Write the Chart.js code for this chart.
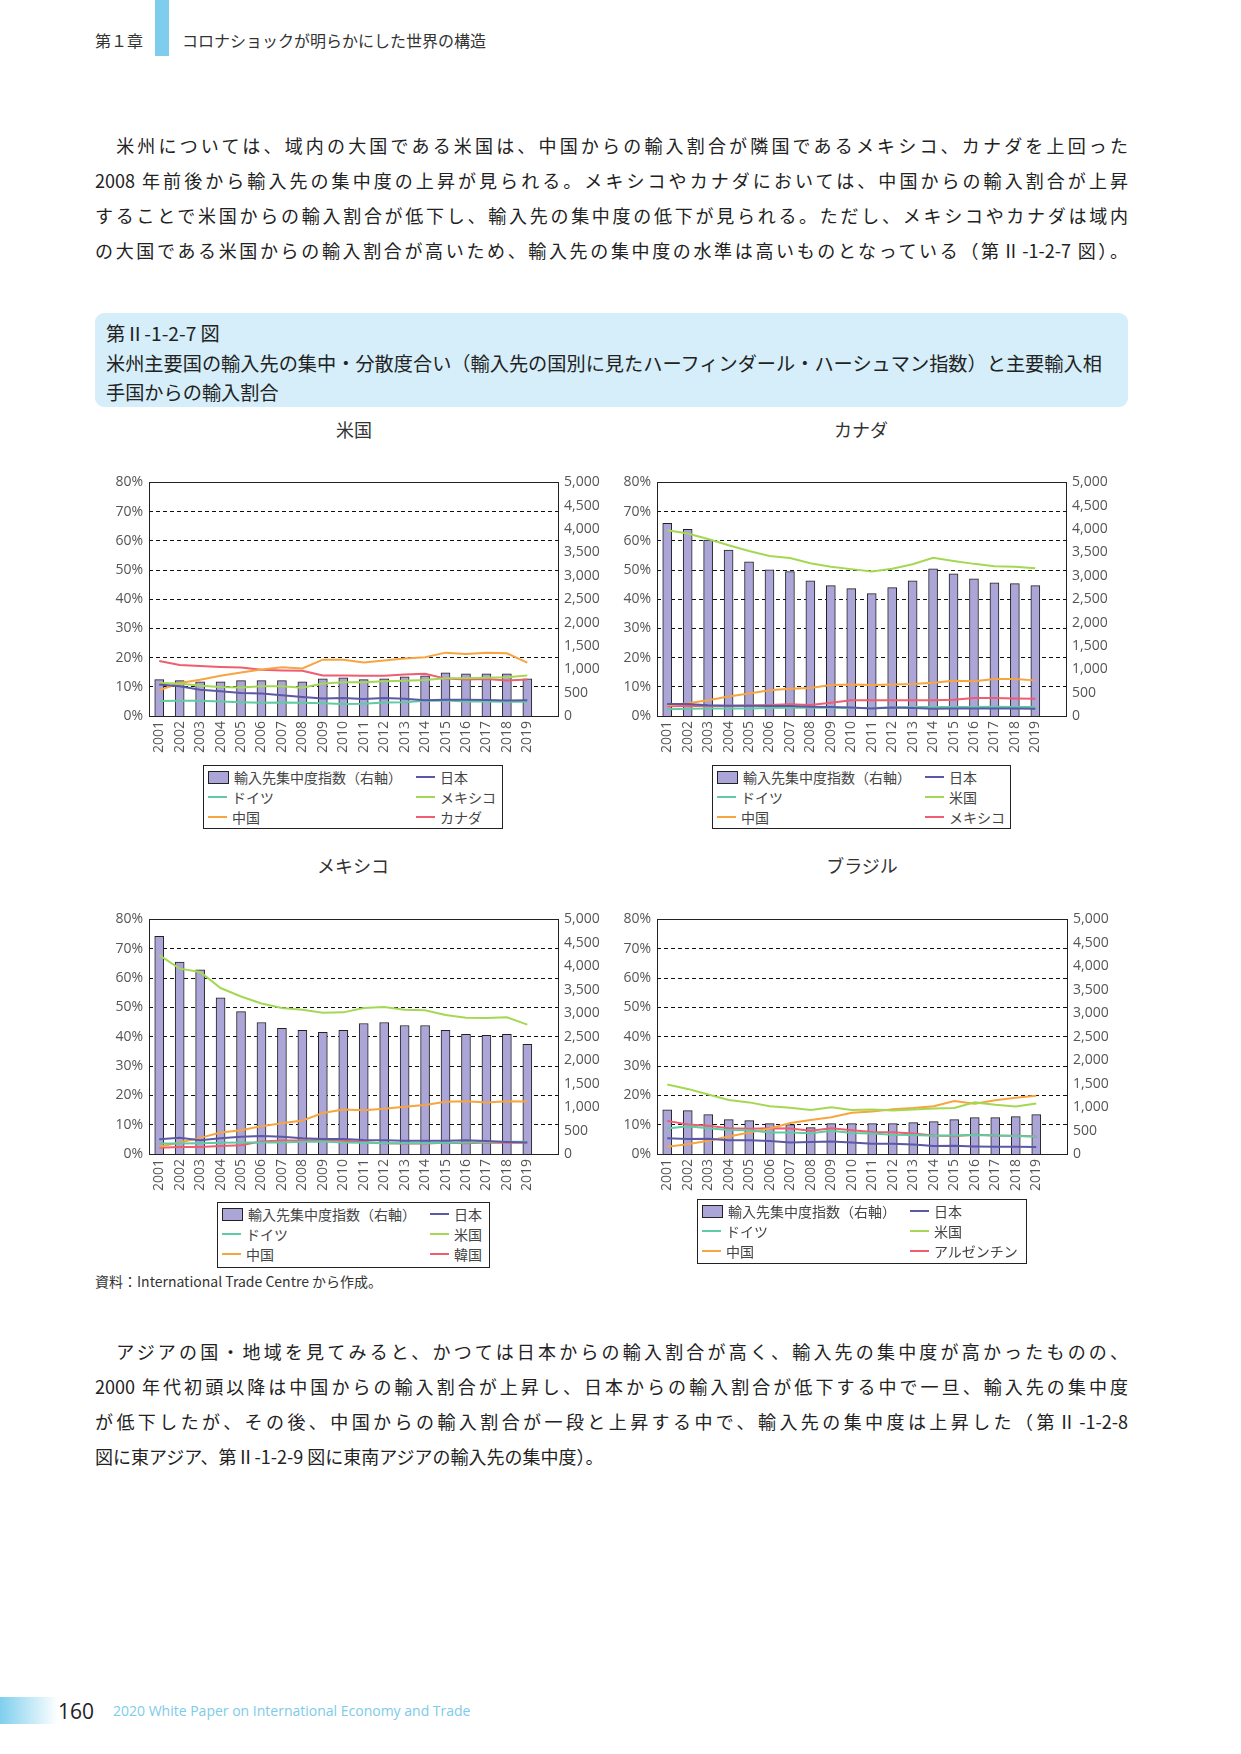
<!DOCTYPE html>
<html lang="ja">
<head>
<meta charset="utf-8">
<script src="https://cdn.jsdelivr.net/npm/chart.js@4.4.1/dist/chart.umd.min.js"></script>
<style>
  body { margin: 0; background: #fff; }
  #page { position: relative; width: 1241px; height: 1754px; overflow: hidden;
          font-family: "Noto Sans CJK JP", "Noto Sans", sans-serif; color: #222; }
  .abs { position: absolute; }
  .para div { height: 35px; line-height: 35px; font-size: 18px; text-align: justify; text-align-last: justify; }
  .para div.last { text-align-last: left; }
  .caption { left: 95px; top: 313px; width: 1033px; height: 94px; background: #d5eef9; border-radius: 9px; }
  .caption div { position: absolute; left: 11px; font-size: 19.2px; line-height: 30px; white-space: nowrap; color: #222; }
  .ctitle { font-size: 18px; color: #333; transform: translateX(-50%); white-space: nowrap; line-height: 20px; }
  .legend { border: 1.5px solid #222; box-sizing: border-box; font-size: 14px; color: #444; }
  .legend .item { position: absolute; display: flex; align-items: center; white-space: nowrap; height: 18px; }
  .legend .sw-bar { width: 19px; height: 11px; border: 1.5px solid #222; margin-right: 5px; }
  .legend .sw-line { width: 19px; height: 2px; margin-right: 5px; }
</style>
</head>
<body>
<div id="page">
  <!-- header -->
  <div class="abs" style="left:155px;top:0;width:14px;height:56px;background:#7fcdec;"></div>
  <div class="abs" style="left:95px;top:30px;font-size:16px;line-height:20px;color:#333;">第１章</div>
  <div class="abs" style="left:182px;top:30px;font-size:16px;line-height:20px;color:#333;">コロナショックが明らかにした世界の構造</div>

  <!-- upper paragraph -->
  <div class="abs para" style="left:95px;top:128px;width:1033px;">
    <div>　米州については、域内の大国である米国は、中国からの輸入割合が隣国であるメキシコ、カナダを上回った</div>
    <div>2008 年前後から輸入先の集中度の上昇が見られる。メキシコやカナダにおいては、中国からの輸入割合が上昇</div>
    <div>することで米国からの輸入割合が低下し、輸入先の集中度の低下が見られる。ただし、メキシコやカナダは域内</div>
    <div>の大国である米国からの輸入割合が高いため、輸入先の集中度の水準は高いものとなっている（第Ⅱ-1-2-7 図）。</div>
  </div>

  <!-- figure caption -->
  <div class="abs caption">
    <div style="top:5px;">第Ⅱ-1-2-7 図</div>
    <div style="top:35px;">米州主要国の輸入先の集中・分散度合い（輸入先の国別に見たハーフィンダール・ハーシュマン指数）と主要輸入相</div>
    <div style="top:64px;">手国からの輸入割合</div>
  </div>

  <div id="charts"></div>

  <div class="abs" style="left:95px;top:1272px;font-size:14px;line-height:18px;color:#333;">資料：International Trade Centre から作成。</div>

  <!-- lower paragraph -->
  <div class="abs para" style="left:95px;top:1334px;width:1033px;">
    <div>　アジアの国・地域を見てみると、かつては日本からの輸入割合が高く、輸入先の集中度が高かったものの、</div>
    <div>2000 年代初頭以降は中国からの輸入割合が上昇し、日本からの輸入割合が低下する中で一旦、輸入先の集中度</div>
    <div>が低下したが、その後、中国からの輸入割合が一段と上昇する中で、輸入先の集中度は上昇した（第Ⅱ-1-2-8</div>
    <div class="last">図に東アジア、第Ⅱ-1-2-9 図に東南アジアの輸入先の集中度）。</div>
  </div>

  <!-- footer -->
  <div class="abs" style="left:0;top:1697px;width:58px;height:27px;background:linear-gradient(to right,#7fcfee,#ffffff);"></div>
  <div class="abs" style="left:58px;top:1699px;font-size:21px;line-height:24px;color:#222;font-family:'Open Sans',sans-serif;">160</div>
  <div class="abs" style="left:113px;top:1702px;font-size:14px;line-height:18px;color:#7ccbe9;font-family:'Open Sans',sans-serif;">2020 White Paper on International Economy and Trade</div>
</div>

<script>
// Years on the category axis (one empty slot at the end, as in the original)
const years = ['2001','2002','2003','2004','2005','2006','2007','2008','2009','2010',
               '2011','2012','2013','2014','2015','2016','2017','2018','2019'];

// Series labels
const barLabel = '輸入先集中度指数（右軸）';

// 米国
const usBars    = [777, 756, 734, 734, 756, 756, 756, 734, 798, 819, 777, 798, 840, 862, 925, 904, 904, 904, 798];
const usJapan   = [10.8, 10.2, 9.0, 8.5, 7.9, 7.7, 7.1, 6.5, 6.0, 6.2, 5.8, 6.2, 5.9, 5.4, 5.6, 5.6, 5.5, 5.3, 5.4];
const usGermany = [5.1, 5.2, 5.2, 5.0, 4.7, 4.5, 4.6, 4.5, 4.4, 4.1, 4.2, 4.6, 4.7, 5.2, 5.3, 5.0, 5.0, 4.9, 4.9];
const usMexico  = [11.3, 11.1, 10.4, 9.9, 9.8, 10.2, 10.2, 9.7, 11.1, 11.6, 11.6, 11.9, 12.1, 12.3, 12.9, 12.9, 13.1, 13.3, 13.9];
const usChina   = [8.8, 11.3, 12.4, 13.8, 14.9, 15.9, 16.7, 16.3, 19.3, 19.3, 18.3, 19.0, 19.7, 20.1, 21.7, 21.2, 21.7, 21.5, 18.3];
const usCanada  = [18.8, 17.5, 17.1, 16.8, 16.6, 15.8, 15.6, 15.5, 13.9, 13.9, 13.8, 13.8, 14.2, 14.5, 12.8, 12.5, 12.7, 12.2, 12.5];

// カナダ
const caBars    = [4124, 3997, 3764, 3552, 3298, 3129, 3093, 2895, 2790, 2726, 2620, 2747, 2895, 3150, 3044, 2938, 2853, 2832, 2790];
const caJapan   = [4.1, 4.1, 3.7, 3.5, 3.5, 3.4, 3.4, 3.2, 3.1, 2.9, 2.6, 2.9, 2.7, 2.5, 2.6, 2.6, 2.6, 2.6, 2.5];
const caGermany = [2.3, 2.5, 2.6, 2.6, 2.6, 2.7, 2.8, 2.8, 2.8, 2.7, 2.7, 2.9, 3.1, 3.1, 3.1, 3.1, 3.2, 3.1, 3.1];
const caUS      = [63.6, 62.5, 60.6, 58.5, 56.5, 54.8, 54.1, 52.3, 51.1, 50.3, 49.5, 50.4, 52.0, 54.2, 53.1, 52.1, 51.3, 51.1, 50.6];
const caChina   = [3.7, 4.4, 5.4, 6.7, 7.7, 8.8, 9.3, 9.6, 10.6, 10.8, 10.6, 10.8, 11.0, 11.4, 12.1, 11.9, 12.7, 12.7, 12.2];
const caMexico  = [3.3, 3.4, 3.4, 3.5, 3.6, 3.8, 4.0, 3.8, 4.5, 5.4, 5.4, 5.4, 5.4, 5.4, 5.6, 6.2, 6.2, 6.0, 5.9];

// メキシコ
const mxBars    = [4641, 4092, 3923, 3331, 3035, 2803, 2676, 2634, 2592, 2634, 2782, 2803, 2739, 2739, 2634, 2549, 2528, 2549, 2338];
const mxJapan   = [5.0, 5.5, 4.7, 5.4, 5.9, 6.1, 5.9, 5.4, 5.1, 5.1, 4.8, 4.7, 4.5, 4.5, 4.5, 4.7, 4.4, 4.1, 3.9];
const mxGermany = [3.6, 3.6, 3.7, 3.8, 3.9, 3.9, 3.9, 4.2, 4.3, 3.9, 3.8, 3.7, 3.7, 3.7, 3.8, 3.9, 4.1, 4.2, 4.2];
const mxUS      = [67.8, 63.2, 62.1, 56.6, 53.7, 51.3, 49.8, 49.2, 48.2, 48.3, 49.8, 50.1, 49.2, 49.0, 47.4, 46.5, 46.4, 46.6, 44.1];
const mxChina   = [2.5, 3.9, 5.5, 7.3, 8.1, 9.5, 10.5, 11.4, 14.0, 15.2, 14.9, 15.4, 16.1, 16.7, 17.8, 18.0, 17.6, 18.0, 17.9];
const mxKorea   = [2.1, 2.4, 2.4, 2.7, 3.0, 4.3, 4.6, 4.6, 4.8, 4.5, 4.1, 3.7, 3.6, 3.6, 3.8, 3.7, 3.9, 3.8, 3.9];

// ブラジル
const brBars      = [944, 923, 838, 732, 711, 648, 627, 563, 648, 648, 648, 648, 669, 690, 732, 775, 775, 796, 838];
const brJapan     = [5.4, 5.1, 5.2, 4.7, 4.7, 4.4, 3.9, 4.1, 4.3, 3.9, 3.5, 3.5, 3.2, 2.7, 2.8, 2.6, 2.5, 2.5, 2.4];
const brGermany   = [8.7, 9.5, 8.8, 8.2, 8.1, 7.3, 7.3, 7.1, 7.9, 7.2, 7.0, 6.6, 6.5, 6.2, 6.3, 6.5, 6.3, 6.1, 6.0];
const brUS        = [23.7, 22.2, 20.3, 18.4, 17.6, 16.3, 15.8, 15.0, 15.9, 15.0, 15.2, 14.8, 15.2, 15.5, 15.7, 17.6, 16.8, 16.2, 17.2];
const brChina     = [2.5, 3.3, 4.5, 6.0, 7.3, 8.7, 10.6, 11.6, 12.5, 14.1, 14.5, 15.3, 15.7, 16.3, 18.1, 17.1, 18.3, 19.2, 19.9];
const brArgentina = [11.3, 10.1, 9.6, 8.8, 8.6, 8.8, 8.7, 7.9, 8.8, 8.1, 7.5, 7.4, 7.0, 6.3, 6.1, 6.6, 6.3, 6.2, 6.0];

// Colours
const COL_BAR = '#aca5d8';
const COL_JP = '#5b58a8';
const COL_DE = '#5ecba3';
const COL_GREEN = '#a5d852';
const COL_CN = '#f8a440';
const COL_RED = '#ef5d70';

// Axis box sizes around the plot area
const WL = 55, WR = 65, PT = 12, HX = 48;
const TICK_FONT = { family: "'Open Sans', 'Noto Sans', sans-serif", size: 14 };

// Draw a solid frame around the plot area
const framePlugin = {
    id: 'frame',
    beforeDatasetsDraw(chart) {
        const a = chart.chartArea;
        const ctx = chart.ctx;
        ctx.save();
        ctx.strokeStyle = '#222';
        ctx.lineWidth = 1;
        ctx.strokeRect(Math.round(a.left) + 0.5, Math.round(a.top) + 0.5,
                       Math.round(a.right - a.left), Math.round(a.bottom - a.top));
        ctx.restore();
    }
};

const panels = [
    { title: '米国', L: 149, T: 480, R: 558, B: 716, titleX: 354, titleY: 419,
      legend: { x: 203, y: 765, w: 300, h: 64 },
      bars: usBars,
      lines: [['日本', usJapan, COL_JP], ['ドイツ', usGermany, COL_DE], ['メキシコ', usMexico, COL_GREEN],
              ['中国', usChina, COL_CN], ['カナダ', usCanada, COL_RED]] },
    { title: 'カナダ', L: 657, T: 480, R: 1066, B: 716, titleX: 861, titleY: 419,
      legend: { x: 712, y: 765, w: 299, h: 64 },
      bars: caBars,
      lines: [['日本', caJapan, COL_JP], ['ドイツ', caGermany, COL_DE], ['米国', caUS, COL_GREEN],
              ['中国', caChina, COL_CN], ['メキシコ', caMexico, COL_RED]] },
    { title: 'メキシコ', L: 149, T: 917, R: 558, B: 1154, titleX: 353, titleY: 855,
      legend: { x: 217, y: 1202, w: 273, h: 66 },
      bars: mxBars,
      lines: [['日本', mxJapan, COL_JP], ['ドイツ', mxGermany, COL_DE], ['米国', mxUS, COL_GREEN],
              ['中国', mxChina, COL_CN], ['韓国', mxKorea, COL_RED]] },
    { title: 'ブラジル', L: 657, T: 917, R: 1067, B: 1154, titleX: 862, titleY: 855,
      legend: { x: 697, y: 1199, w: 330, h: 65 },
      bars: brBars,
      lines: [['日本', brJapan, COL_JP], ['ドイツ', brGermany, COL_DE], ['米国', brUS, COL_GREEN],
              ['中国', brChina, COL_CN], ['アルゼンチン', brArgentina, COL_RED]] }
];

// Build the custom boxed legend (2 columns x 3 rows)
function createLegend(container, p) {
    const box = document.createElement('div');
    box.className = 'abs legend';
    box.style.left = p.legend.x + 'px';
    box.style.top = p.legend.y + 'px';
    box.style.width = p.legend.w + 'px';
    box.style.height = p.legend.h + 'px';

    const entries = [
        { label: barLabel, color: COL_BAR, bar: true },
        { label: p.lines[0][0], color: p.lines[0][2] },
        { label: p.lines[1][0], color: p.lines[1][2] },
        { label: p.lines[2][0], color: p.lines[2][2] },
        { label: p.lines[3][0], color: p.lines[3][2] },
        { label: p.lines[4][0], color: p.lines[4][2] }
    ];
    entries.forEach((e, i) => {
        const col = i % 2, row = Math.floor(i / 2);
        const item = document.createElement('div');
        item.className = 'item';
        item.style.left = (col === 0 ? 4 : 212) + 'px';
        item.style.top = (2 + row * 20) + 'px';
        const sw = document.createElement('div');
        sw.className = e.bar ? 'sw-bar' : 'sw-line';
        sw.style.background = e.color;
        item.appendChild(sw);
        const t = document.createElement('span');
        t.textContent = e.label;
        item.appendChild(t);
        box.appendChild(item);
    });
    container.appendChild(box);
}

function createPanel(container, p, index) {
    const title = document.createElement('div');
    title.className = 'abs ctitle';
    title.style.left = p.titleX + 'px';
    title.style.top = p.titleY + 'px';
    title.textContent = p.title;
    container.appendChild(title);

    const w = WL + (p.R - p.L) + WR;
    const h = PT + (p.B - p.T) + HX;
    const canvas = document.createElement('canvas');
    canvas.id = 'chart' + index;
    canvas.width = w;
    canvas.height = h;
    canvas.className = 'abs';
    canvas.style.left = (p.L - WL) + 'px';
    canvas.style.top = (p.T - PT) + 'px';
    canvas.style.width = w + 'px';
    canvas.style.height = h + 'px';
    container.appendChild(canvas);

    const datasets = p.lines.map((l, i) => ({
        type: 'line',
        label: l[0],
        data: l[1],
        borderColor: l[2],
        backgroundColor: l[2],
        borderWidth: 2,
        pointRadius: 0,
        tension: 0,
        yAxisID: 'y',
        order: i
    }));
    datasets.push({
        type: 'bar',
        label: barLabel,
        data: p.bars,
        backgroundColor: COL_BAR,
        borderColor: '#222',
        borderWidth: 1,
        barThickness: 9,
        yAxisID: 'y2',
        order: 10
    });

    new Chart(canvas, {
        type: 'bar',
        data: { labels: [...years, ''], datasets: datasets },
        options: {
            responsive: false,
            animation: false,
            layout: { autoPadding: false, padding: { top: PT, left: 0, right: 0, bottom: 0 } },
            plugins: { legend: { display: false }, tooltip: { enabled: false } },
            scales: {
                x: {
                    grid: { display: false, drawTicks: false },
                    border: { display: false },
                    ticks: { autoSkip: false, maxRotation: 90, minRotation: 90, padding: 5,
                             font: TICK_FONT, color: '#555' },
                    afterFit: s => { s.height = HX; }
                },
                y: {
                    position: 'left',
                    min: 0, max: 80,
                    ticks: { stepSize: 10, padding: 6, font: TICK_FONT, color: '#555',
                             callback: v => v + '%' },
                    grid: { drawTicks: false, lineWidth: 1,
                            color: c => (c.tick && (c.tick.value === 0 || c.tick.value === 80)) ? 'rgba(0,0,0,0)' : '#111' },
                    border: { display: false, dash: [4, 3] },
                    afterFit: s => { s.width = WL; }
                },
                y2: {
                    position: 'right',
                    min: 0, max: 5000,
                    ticks: { stepSize: 500, padding: 6, font: TICK_FONT, color: '#555',
                             callback: v => v.toLocaleString('en-US') },
                    grid: { display: false, drawTicks: false },
                    border: { display: false },
                    afterFit: s => { s.width = WR; }
                }
            }
        },
        plugins: [framePlugin]
    });

    createLegend(container, p);
}

document.addEventListener('DOMContentLoaded', function() {
    const container = document.getElementById('page');
    panels.forEach((p, i) => createPanel(container, p, i));
});
</script>
</body>
</html>
